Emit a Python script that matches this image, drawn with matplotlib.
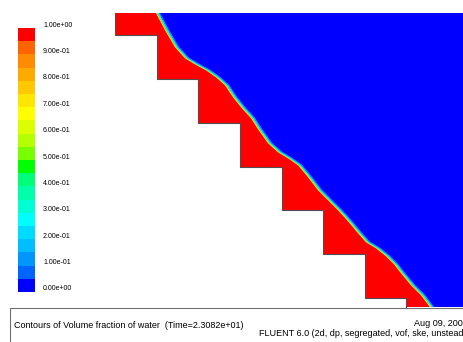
import numpy as np
import matplotlib
matplotlib.use("Agg")
import matplotlib.pyplot as plt
from matplotlib.colors import ListedColormap, BoundaryNorm
from matplotlib.patches import Polygon, Rectangle
from matplotlib.transforms import ScaledTranslation

plt.rcParams['font.family'] = ['Liberation Sans', 'DejaVu Sans']

# contour levels and their colours (bottom -> top), FLUENT style
levels = np.linspace(0, 1, 21)
level_colors = ['#0000ff', '#0064ff', '#0096ff', '#00beff', '#00dcff',
                '#00ffff', '#00ffd2', '#00ffaa', '#00ff78', '#00ff00',
                '#78ff00', '#b4ff00', '#dcff00', '#ffff00', '#ffe600',
                '#ffc800', '#ffaa00', '#ff8c00', '#ff6400', '#ff0000']
tick_values = [0.0, 0.1, 0.2, 0.3, 0.4, 0.5, 0.6, 0.7, 0.8, 0.9, 1.0]
tick_labels = ["%.2e" % v for v in tick_values]

# stepped spillway geometry (drawing units, y grows downwards)
step_x = [115, 157, 198, 240, 282, 323, 365, 406]
step_y = [35, 79, 123, 167, 210, 254, 298]
domain_top = 13
domain_bottom = 307
domain_right = 470

# free surface (water / air interface)
surf_x = [158, 167, 177, 187, 197, 208, 218, 227, 235, 243, 253, 260, 270,
          280, 290, 300, 310, 320, 330, 340, 350, 360, 368, 378, 388, 396,
          403, 413, 423, 432]
surf_y = [13, 30, 47, 58, 64, 70, 77, 85, 97, 107, 118, 129, 143, 152, 158,
          165, 177, 190, 200, 210, 221, 233, 242, 248, 256, 264, 273, 285,
          295, 307]

# thin smeared band of the interface: shift across surface and colour
band_shift = [-1.5, -0.5, 0.5, 1.5]
band_colors = ['#ffe600', '#50ff50', '#00ffff', '#0096ff']

fig = plt.figure(figsize=(4.63, 3.42), dpi=100)
ax = fig.add_axes([0, 0, 1, 1])
ax.set_xlim(0, 463)
ax.set_ylim(342, 0)
ax.axis('off')

# wall outline
wall = [(step_x[0], domain_top)]
for i in range(len(step_y)):
    wall.append((step_x[i], step_y[i]))
    wall.append((step_x[i + 1], step_y[i]))
wall.append((step_x[-1], domain_bottom))

surf = list(zip(surf_x, surf_y))

water = surf + wall[::-1]
air = surf + [(domain_right, domain_bottom), (domain_right, domain_top)]
ax.add_patch(Polygon(water, closed=True, facecolor='#ff0000', edgecolor='none'))
ax.add_patch(Polygon(air, closed=True, facecolor='#0000ff', edgecolor='none'))

clip = Rectangle((step_x[0], domain_top), domain_right - step_x[0],
                 domain_bottom - domain_top, transform=ax.transData)
for d, c in zip(band_shift, band_colors):
    ln, = ax.plot(np.array(surf_x) + d, surf_y, color=c, lw=0.8,
                  solid_joinstyle='round')
    ln.set_clip_path(clip)

wx, wy = zip(*wall)
ax.plot(wx, wy, color='#505050', lw=0.8)

# caption box
ax.add_patch(Rectangle((10, 307.5), 470, 40, facecolor='white',
                       edgecolor='#707070', lw=0.8))
ax.text(14, 326, "Contours of Volume fraction of water  (Time=2.3082e+01)",
        fontsize=6.5, va='center', ha='left')
ax.text(414, 324, "Aug 09, 200", fontsize=6.5, va='center', ha='left')
ax.text(259, 334, "FLUENT 6.0 (2d, dp, segregated, vof, ske, unstead",
        fontsize=6.5, va='center', ha='left')

# colour bar
cax = fig.add_axes([18 / 463, (342 - 292) / 342, 17 / 463, 264 / 342])
mids = (levels[:-1] + levels[1:]) / 2
cax.pcolormesh([0, 1], levels, mids[:, None], cmap=ListedColormap(level_colors),
               norm=BoundaryNorm(levels, len(level_colors)))
cax.set_xlim(0, 1)
cax.set_ylim(0, 1)
cax.set_xticks([])
cax.set_yticks([])
for s in cax.spines.values():
    s.set_visible(False)
off = ScaledTranslation(0.08, 0.03, fig.dpi_scale_trans)
for v, lab in zip(tick_values, tick_labels):
    cax.text(1, v, lab, fontsize=5, va='center', ha='left',
             transform=cax.get_yaxis_transform() + off)

fig.savefig('out.png', dpi=100)
